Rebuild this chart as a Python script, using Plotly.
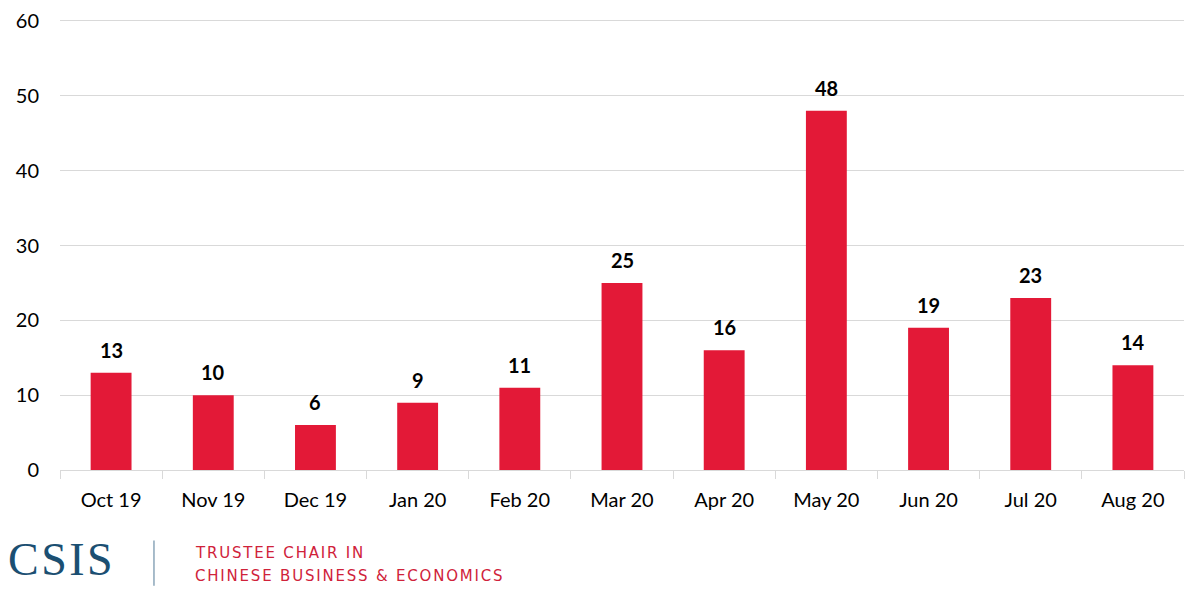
import plotly.graph_objects as go

months = ["Oct 19", "Nov 19", "Dec 19", "Jan 20", "Feb 20", "Mar 20",
          "Apr 20", "May 20", "Jun 20", "Jul 20", "Aug 20"]
values = [13, 10, 6, 9, 11, 25, 16, 48, 19, 23, 14]
y_ticks = [0, 10, 20, 30, 40, 50, 60]

FONT = "Lato, Carlito, Calibri, sans-serif"
RED = "#E31937"

fig = go.Figure()
fig.add_trace(go.Bar(x=months, y=values, marker_color=RED, marker_line_width=0,
                     hoverinfo="x+y"))

for m, v in zip(months, values):
    fig.add_annotation(x=m, y=v, text=f"<b>{v}</b>", showarrow=False,
                       yanchor="bottom", yshift=9,
                       font=dict(family=FONT, size=20, color="#000000"))

# page body has an 8px margin, so the figure is sized/offset to compensate
fig.update_layout(
    width=1193, height=584,
    margin=dict(l=52, r=17, t=10, b=122),
    paper_bgcolor="white", plot_bgcolor="white",
    bargap=0.6, showlegend=False,
    font=dict(family=FONT, size=20, color="#000000"),
)
fig.update_xaxes(
    type="category", showgrid=False, showline=True, linecolor="#d9d9d9", linewidth=1,
    ticks="outside", tickson="boundaries", ticklen=8, tickcolor="#d9d9d9",
    tickfont=dict(family=FONT, size=20, color="#000000"), ticklabelstandoff=12,
    automargin=False,
)
fig.update_yaxes(
    range=[0, 60.4], tickvals=y_ticks, showgrid=True, gridcolor="#d9d9d9", gridwidth=1,
    zeroline=False, showline=False, ticks="", ticklabeloverflow="allow",
    tickfont=dict(family=FONT, size=20, color="#000000"), ticklabelstandoff=20,
    automargin=False,
)

# Logo footer
fig.add_annotation(xref="paper", yref="paper", x=-0.048, y=-0.199, xanchor="left",
                   yanchor="middle", showarrow=False,
                   text='<span style="letter-spacing:2.5px">CSIS</span>',
                   font=dict(family="Liberation Serif, DejaVu Serif, serif", size=46,
                             color="#1B4F72"))
fig.add_shape(type="line", xref="paper", yref="paper", x0=0.0836, x1=0.0836,
              y0=-0.156, y1=-0.256, line=dict(color="#8BA6B9", width=1.5))
fig.add_annotation(xref="paper", yref="paper", x=0.118, y=-0.1842, xanchor="left",
                   yanchor="middle", showarrow=False,
                   text='<span style="letter-spacing:1.8px">TRUSTEE CHAIR IN</span>',
                   font=dict(family="DejaVu Sans, sans-serif", size=15, color="#D0223A"))
fig.add_annotation(xref="paper", yref="paper", x=0.118, y=-0.2339, xanchor="left",
                   yanchor="middle", showarrow=False,
                   text='<span style="letter-spacing:1.8px">CHINESE BUSINESS &amp; ECONOMICS</span>',
                   font=dict(family="DejaVu Sans, sans-serif", size=15, color="#D0223A"))

fig.write_html("out.html")
